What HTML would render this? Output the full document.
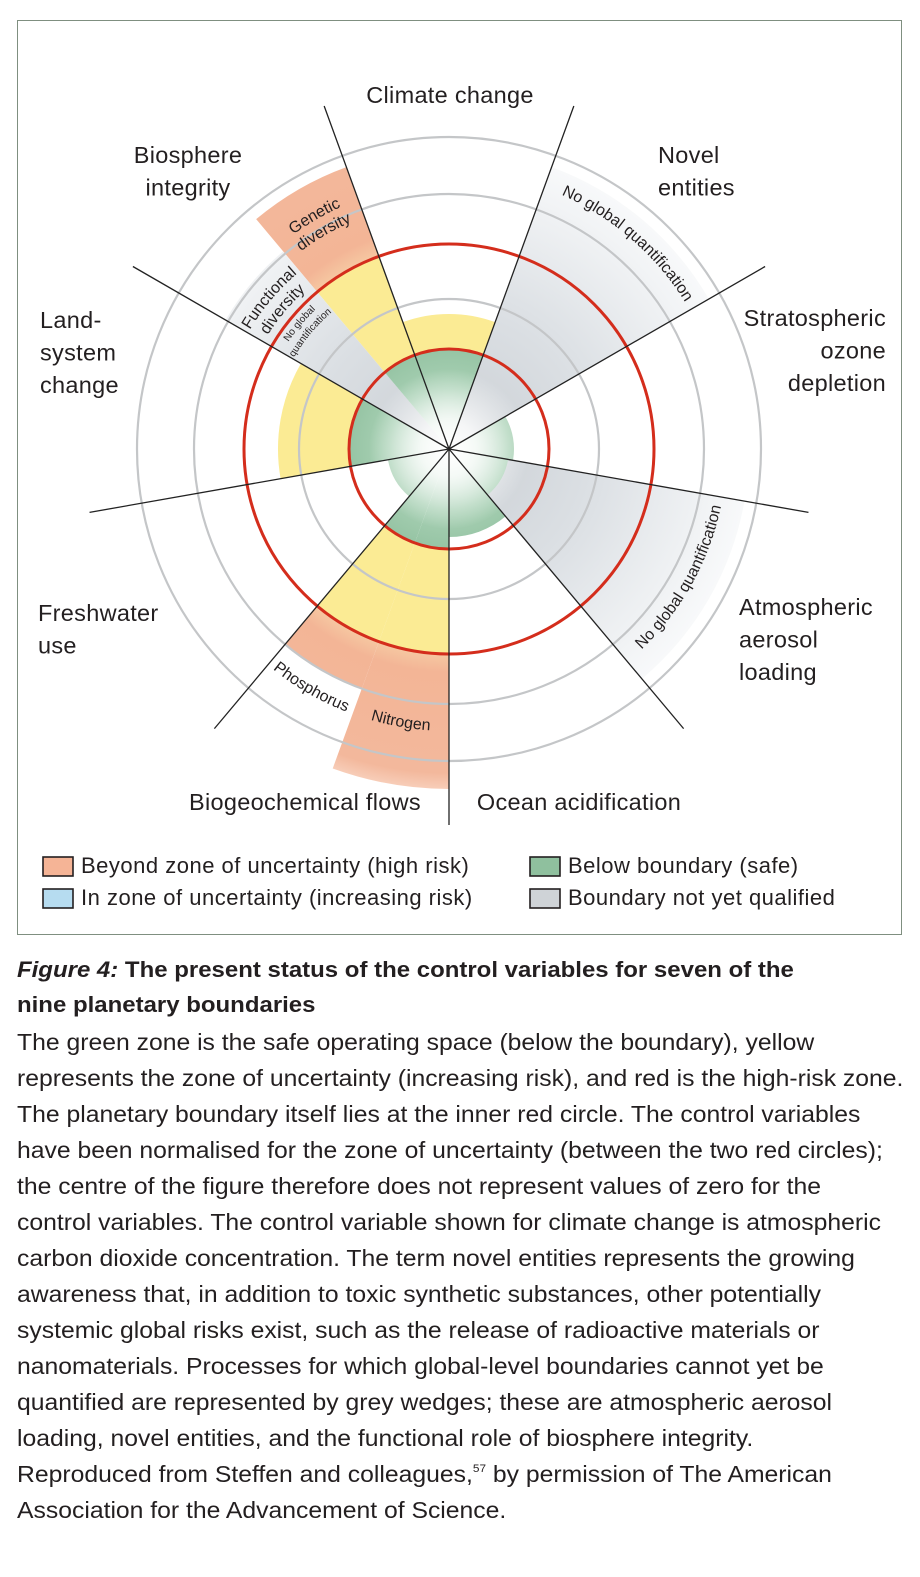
<!DOCTYPE html>
<html><head><meta charset="utf-8">
<style>
html,body{margin:0;padding:0;background:#fff;}
body{width:920px;height:1577px;position:relative;overflow:hidden;font-family:"Liberation Sans",sans-serif;color:#231f20;}
#frame{position:absolute;left:17px;top:20px;width:885px;height:915px;border:1px solid #7f8f80;box-sizing:border-box;}
svg{position:absolute;left:0;top:0;}
.cap{position:absolute;left:17px;white-space:nowrap;font-size:23px;line-height:36px;transform:scaleX(1.075);transform-origin:0 0;}
.t{font-weight:bold;font-size:22px;transform:scaleX(1.09);}
sup{font-size:11px;line-height:0;vertical-align:10px;}
</style></head><body>
<div id="frame"></div>
<svg id="s" width="920" height="940" viewBox="0 0 920 940" font-family="Liberation Sans, sans-serif">
<defs>
<radialGradient id="glow" cx="449" cy="449" r="80" gradientUnits="userSpaceOnUse">
<stop offset="0" stop-color="#fff" stop-opacity="1"/><stop offset="0.35" stop-color="#fff" stop-opacity="0.8"/><stop offset="1" stop-color="#fff" stop-opacity="0"/></radialGradient>
<radialGradient id="green" cx="449" cy="449" r="100" gradientUnits="userSpaceOnUse">
<stop offset="0" stop-color="#e6f1ea"/><stop offset="0.6" stop-color="#a9d1b5"/><stop offset="1" stop-color="#96c4a4"/></radialGradient>
<radialGradient id="gray" cx="449" cy="449" r="312" gradientUnits="userSpaceOnUse">
<stop offset="0" stop-color="#c9ced3"/><stop offset="0.5" stop-color="#dde1e5"/><stop offset="0.82" stop-color="#f0f2f4"/><stop offset="1" stop-color="#fafbfc"/></radialGradient>
<radialGradient id="red" cx="449" cy="449" r="360" gradientUnits="userSpaceOnUse">
<stop offset="0.55" stop-color="#f7cfa6"/><stop offset="0.62" stop-color="#f3b596"/><stop offset="0.9" stop-color="#f3b89c"/><stop offset="1" stop-color="#fde8dc"/></radialGradient>
</defs>
<g id="wedges"></g>
<g id="circ" fill="none"></g>
<g id="lines" stroke="#222" stroke-width="1.3"></g>
<g id="txt"></g>
</svg>
<script>
var cx=449,cy=449,NS="http://www.w3.org/2000/svg";
function P(r,t){t=t*Math.PI/180;return [cx+r*Math.sin(t),cy-r*Math.cos(t)];}
function sector(r0,r1,a0,a1){var p1=P(r1,a0),p2=P(r1,a1),p3=P(r0,a1),p4=P(r0,a0);
 var d="M"+p1+" A"+r1+" "+r1+" 0 0 1 "+p2+" L"+p3;
 if(r0>0)d+=" A"+r0+" "+r0+" 0 0 0 "+p4;d+=" Z";return d;}
function add(g,tag,at,txt){var e=document.createElementNS(NS,tag);for(var k in at)e.setAttribute(k,at[k]);if(txt)e.textContent=txt;document.getElementById(g).appendChild(e);return e;}
var W=[[-20,20,135],[180,200,340],[200,220,255],[260,300,171],[320,340,300],[300,320,100],[60,100,65],[100,140,65],[140,180,88],[220,260,62]];
W.forEach(function(w){var r=w[2];
 add("wedges","path",{d:sector(0,Math.min(r,100),w[0],w[1]),fill:"url(#green)"});
 if(r>100)add("wedges","path",{d:sector(100,Math.min(r,206),w[0],w[1]),fill:"#fbeb94"});
 if(r>206)add("wedges","path",{d:sector(206,r,w[0],w[1]),fill:"url(#red)"});});
[[20,60,300],[100,140,300],[300,320,258]].forEach(function(w){add("wedges","path",{d:sector(w[1]==140?60:0,w[2],w[0],w[1]),fill:"url(#gray)"});});
add("wedges","path",{d:sector(0,60,100,140),fill:"url(#green)"});
add("wedges","circle",{cx:cx,cy:cy,r:85,fill:"url(#glow)"});
[150,255,312].forEach(function(r){add("circ","circle",{cx:cx,cy:cy,r:r,stroke:"#c4c6c8","stroke-width":2.2});});
[100,205].forEach(function(r){add("circ","circle",{cx:cx,cy:cy,r:r,stroke:"#d42d1c","stroke-width":3});});
[-20,20,60,100,140,220,260,300].forEach(function(a){var p=P(365,a);add("lines","line",{x1:cx,y1:cy,x2:p[0],y2:p[1]});});
add("lines","line",{x1:cx,y1:cy,x2:449,y2:825});
function lab(x,y,lines,anchor){lines.forEach(function(s,i){add("txt","text",{x:x,y:y+i*32.5,"font-size":23.5,"text-anchor":anchor,fill:"#231f20","letter-spacing":"0.3"},s);});}
lab(450,103,["Climate change"],"middle");
lab(188,163,["Biosphere","integrity"],"middle");
lab(658,163,["Novel","entities"],"start");
lab(40,328,["Land-","system","change"],"start");
lab(886,326,["Stratospheric","ozone","depletion"],"end");
lab(38,621,["Freshwater","use"],"start");
lab(739,615,["Atmospheric","aerosol","loading"],"start");
lab(305,810,["Biogeochemical flows"],"middle");
lab(579,810,["Ocean acidification"],"middle");
var n=0;
function arcText(r,a0,a1,s,fs){var id="ap"+(n++);var p1=P(r,a0),p2=P(r,a1);var sw=a1>a0?1:0;
 add("txt","path",{id:id,d:"M"+p1+" A"+r+" "+r+" 0 0 "+sw+" "+p2,fill:"none"});
 var t=add("txt","text",{"font-size":fs,fill:"#231f20","text-anchor":"middle"});
 var tp=document.createElementNS(NS,"textPath");tp.setAttribute("href","#"+id);tp.setAttribute("startOffset","50%");tp.textContent=s;t.appendChild(tp);}
arcText(278,21,61,"No global quantification",16);
arcText(278,139,99,"No global quantification",16);
arcText(265,322,338,"Genetic",16);
arcText(247,321,339,"diversity",16);
arcText(232,301,319,"Functional",16);
arcText(214,301,319,"diversity",16);
arcText(193,303,317,"No global",10);
arcText(180,301,319,"quantification",10);
arcText(282,219,201,"Phosphorus",16);
arcText(282,199,181,"Nitrogen",16);
function leg(x,y,c,s){add("txt","rect",{x:x,y:y,width:30,height:19,fill:c,stroke:"#231f20","stroke-width":1.6});add("txt","text",{x:x+38,y:y+16,"font-size":22,fill:"#231f20","letter-spacing":"0.5"},s);}
leg(43,857,"#f5b496","Beyond zone of uncertainty (high risk)");
leg(43,889,"#b6dcf0","In zone of uncertainty (increasing risk)");
leg(530,857,"#8fc09e","Below boundary (safe)");
leg(530,889,"#cfd3d7","Boundary not yet qualified");
</script>
<div class="cap t" style="top:952px;"><i>Figure 4:</i> The present status of the control variables for seven of the</div>
<div class="cap t" style="top:987px;">nine planetary boundaries</div>
<div class="cap" style="top:1024px;">The green zone is the safe operating space (below the boundary), yellow</div>
<div class="cap" style="top:1060px;">represents the zone of uncertainty (increasing risk), and red is the high-risk zone.</div>
<div class="cap" style="top:1096px;">The planetary boundary itself lies at the inner red circle. The control variables</div>
<div class="cap" style="top:1132px;">have been normalised for the zone of uncertainty (between the two red circles);</div>
<div class="cap" style="top:1168px;">the centre of the figure therefore does not represent values of zero for the</div>
<div class="cap" style="top:1204px;">control variables. The control variable shown for climate change is atmospheric</div>
<div class="cap" style="top:1240px;">carbon dioxide concentration. The term novel entities represents the growing</div>
<div class="cap" style="top:1276px;">awareness that, in addition to toxic synthetic substances, other potentially</div>
<div class="cap" style="top:1312px;">systemic global risks exist, such as the release of radioactive materials or</div>
<div class="cap" style="top:1348px;">nanomaterials. Processes for which global-level boundaries cannot yet be</div>
<div class="cap" style="top:1384px;">quantified are represented by grey wedges; these are atmospheric aerosol</div>
<div class="cap" style="top:1420px;">loading, novel entities, and the functional role of biosphere integrity.</div>
<div class="cap" style="top:1456px;">Reproduced from Steffen and colleagues,<sup>57</sup> by permission of The American</div>
<div class="cap" style="top:1492px;">Association for the Advancement of Science.</div>
</body></html>
